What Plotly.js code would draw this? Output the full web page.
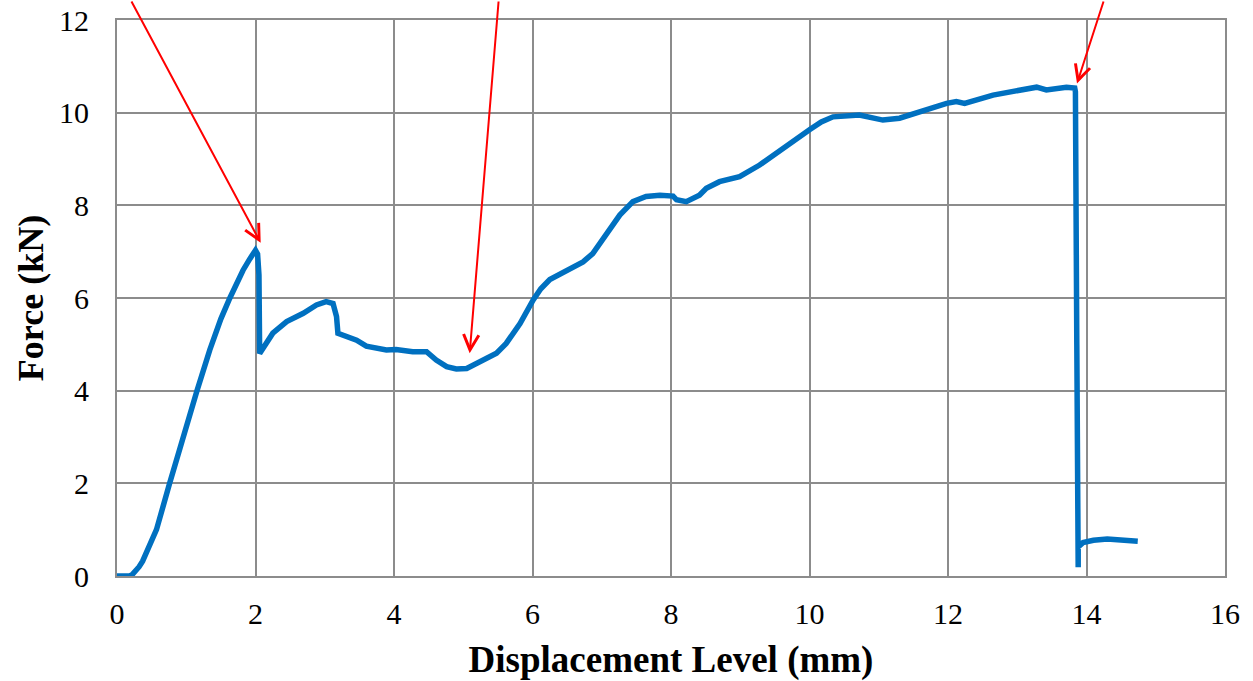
<!DOCTYPE html>
<html>
<head>
<meta charset="utf-8">
<script src="https://cdn.plot.ly/plotly-3.0.1.min.js"></script>
<style>
  html, body { margin: 0; padding: 0; background: #ffffff; }
  #chart { width: 1253px; height: 681px; }
</style>
</head>
<body>
<div id="chart"></div>
<script>
// Displacement (mm)
const displacement = [0, 0.18, 0.22, 0.27, 0.32, 0.37, 0.45, 0.57, 0.76, 0.96, 1.155, 1.34, 1.5, 1.63, 1.72, 1.82, 1.92, 2.0, 2.03, 2.05, 2.06, 2.1,
  2.25, 2.45, 2.69, 2.88, 3.02, 3.12, 3.17, 3.19, 3.36, 3.46, 3.60, 3.75, 3.89, 4.03, 4.27, 4.47, 4.61, 4.76, 4.90,
  5.05, 5.29, 5.48, 5.62, 5.82, 6.01, 6.12, 6.25, 6.49, 6.73, 6.87, 7.07, 7.26, 7.45, 7.64, 7.84, 8.03, 8.08, 8.22, 8.41,
  8.51, 8.70, 8.99, 9.28, 9.57, 9.81, 10.00, 10.17, 10.34, 10.72, 11.06, 11.30, 11.59, 11.98, 12.12, 12.24, 12.65, 12.99,
  13.28, 13.42, 13.71, 13.83, 13.84, 13.86, 13.88, 13.88, 13.95, 14.1, 14.3, 14.5, 14.65, 14.74];
// Force (kN)
const force = [0, 0, 0.03, 0.1, 0.2, 0.32, 0.6, 1.0, 2.0, 3.05, 4.0, 4.88, 5.55, 6.0, 6.3, 6.6, 6.85, 7.03, 6.95, 6.5, 4.8, 4.9,
  5.24, 5.49, 5.67, 5.85, 5.92, 5.88, 5.6, 5.24, 5.13, 5.09, 4.96, 4.91, 4.88, 4.89, 4.84, 4.84, 4.66, 4.52, 4.47,
  4.48, 4.66, 4.81, 5.02, 5.45, 5.96, 6.2, 6.4, 6.6, 6.78, 6.96, 7.40, 7.79, 8.08, 8.19, 8.22, 8.20, 8.12, 8.08, 8.22,
  8.37, 8.51, 8.62, 8.87, 9.19, 9.45, 9.63, 9.8, 9.91, 9.95, 9.84, 9.88, 10.02, 10.20, 10.24, 10.20, 10.38, 10.47,
  10.55, 10.49, 10.55, 10.53, 10.45, 5.0, 0.19, 0.63, 0.72, 0.77, 0.8, 0.79, 0.78, 0.75];

// Arrow target points (displacement, force)
const arrowX = [2.075, 5.093, 13.863];
const arrowY = [7.19, 4.81, 10.63];

const xTicks = [0, 2, 4, 6, 8, 10, 12, 14, 16];
const yTicks = [0, 2, 4, 6, 8, 10, 12];

const FONT = '"Liberation Serif", "Times New Roman", Times, serif';
const GRID = '#8c8c8c';

const trace = {
  x: displacement, y: force, type: 'scatter', mode: 'lines',
  line: { color: '#0070C0', width: 5.5 },
  hoverinfo: 'skip', showlegend: false
};

const tails = [[-130, -260], [29, -375], [27, -105]];
const annotations = arrowX.map((ax, i) => ({
  x: ax, y: arrowY[i], xref: 'x', yref: 'y', text: '',
  showarrow: true, arrowhead: 5, arrowsize: 1.5, arrowwidth: 2, arrowcolor: '#FF0000',
  ax: tails[i][0], ay: tails[i][1], standoff: 0, startstandoff: 0
}));

const layout = {
  width: 1253, height: 681,
  margin: { l: 117, r: 28, t: 20, b: 105 },
  paper_bgcolor: '#ffffff', plot_bgcolor: '#ffffff',
  font: { family: FONT, color: '#000000', size: 30 },
  xaxis: {
    range: [0, 16], tickvals: xTicks, ticktext: xTicks.map(String),
    showgrid: true, gridcolor: GRID, gridwidth: 2, zeroline: false,
    showline: true, linecolor: GRID, linewidth: 2, mirror: true,
    ticks: '', ticklabelstandoff: 10,
    tickfont: { family: FONT, size: 30, color: '#000' },
    title: { text: '<b>Displacement Level (mm)</b>', font: { family: FONT, size: 37, color: '#000' }, standoff: 18 }
  },
  yaxis: {
    range: [0, 12], tickvals: yTicks, ticktext: yTicks.map(String),
    showgrid: true, gridcolor: GRID, gridwidth: 2, zeroline: false,
    showline: true, linecolor: GRID, linewidth: 2, mirror: true,
    ticks: '', ticklabelstandoff: 20,
    tickfont: { family: FONT, size: 30, color: '#000' },
    title: { text: '<b>Force (kN)</b>', font: { family: FONT, size: 36, color: '#000' }, standoff: 4 }
  },
  annotations: annotations
};

Plotly.newPlot('chart', [trace], layout, { staticPlot: true, displayModeBar: false });
</script>
</body>
</html>
